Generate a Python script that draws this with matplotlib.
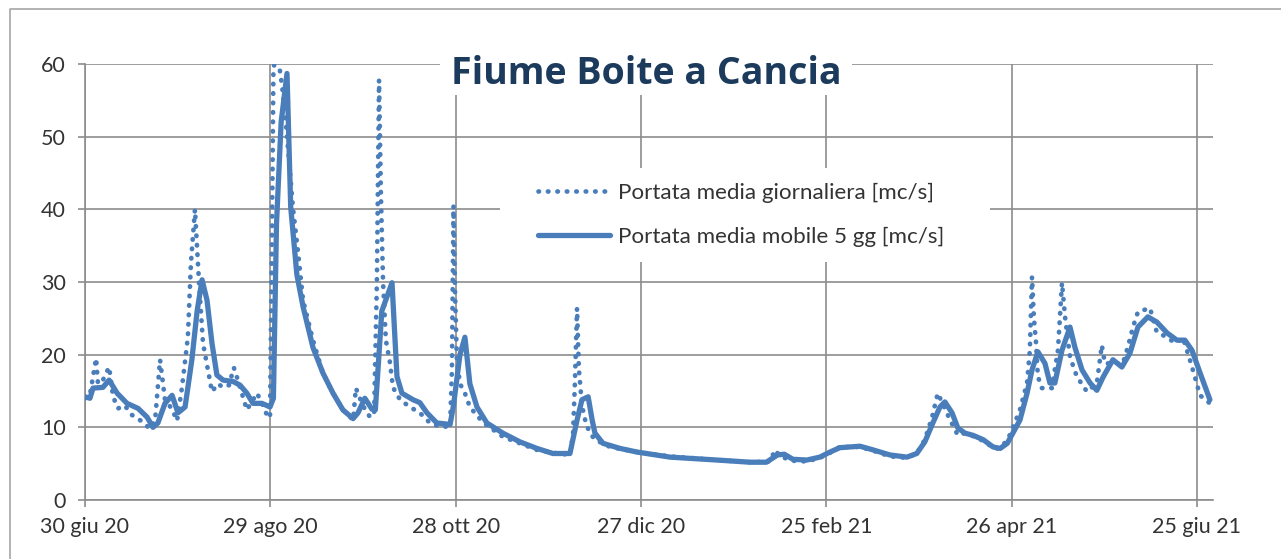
import matplotlib
matplotlib.use('Agg')
import matplotlib.pyplot as plt
from matplotlib.patches import Rectangle
from matplotlib.lines import Line2D

# days from 30 giu 2020, daily mean flow [mc/s] (dotted)
giorni_daily = [0, 1.6, 3.6, 4.2, 5.8, 7.8, 9.1, 10.7, 12.9, 15.2, 18.5, 21, 22.7, 24.3, 25.9,
                28.2, 29.8, 31.4, 33.3, 34.3, 35.6, 36.9, 38.2, 39.8, 41.1, 43, 44.7, 46.6, 48.2,
                49.5, 52.4, 55.7, 57.6, 58.9, 59.9, 60.5, 61, 61.8, 62.8, 63.8, 65, 66.4, 67.3,
                69, 70.6, 73.8, 77, 80.3, 83.5, 86.8, 87.7, 89, 90.6, 92.3, 93.6, 94.5, 95.2,
                95.8, 96.5, 97.4, 98.7, 99.7, 102, 105.2, 108.4, 111.7, 114.9, 118.2, 118.8,
                119.3, 119.8, 120.4, 121.4, 123, 124.6, 128.8, 135.3, 140.8, 146.3, 151.5, 157,
                158, 158.6, 159.3, 159.9, 160.9, 162.2, 163.5, 165.1, 170, 178.7, 189.4, 204.6,
                215.3, 221.8, 223.4, 225, 229.2, 233.7, 237.9, 241.2, 244.4, 250.9, 255.1, 260.6,
                266.1, 269.3, 271.9, 274.2, 276.1, 277.4, 279, 280.7, 282.6, 284.9, 288.1, 291.4,
                294.6, 296.9, 299.5, 302.7, 305, 305.9, 306.6, 307.2, 307.9, 308.5, 309.8, 313,
                315, 316.3, 317.3, 318.9, 321.1, 324.4, 327.6, 329.2, 330.2, 332.8, 336, 337.6,
                339.3, 340.9, 344.8, 347, 350.3, 352.9, 355.5, 357.7, 359.3, 361, 364.2]
portata_daily = [14.0, 14.5, 19.5, 16, 16.5, 18.3, 14.2, 12.6, 13, 11.7, 10.8, 9.8, 11, 19.3, 13.8,
                 12.5, 10.9, 15.5, 22.4, 32.6, 40, 30, 21.6, 17.9, 14.9, 16, 15.5, 15.8, 18.2,
                 16.5, 12.4, 14.7, 13.0, 11.7, 11.3, 35, 59, 62, 60, 57, 52, 45, 40.3,
                 34, 27.5, 22, 17.5, 14.7, 12.4, 11, 15.4, 14, 12.5, 11.4, 11.8, 30, 57.8,
                 42, 30, 22, 19, 15.5, 13.8, 12.8, 12, 10.6, 10.1, 10.1, 18,
                 40.5, 28.5, 19.3, 16, 14.7, 12.8, 10.7, 8.7, 7.8, 6.9, 6.5, 6.2,
                 9, 16, 26.4, 18, 13, 10.5, 9.2, 8.3, 7.3, 6.6, 6.0, 5.5,
                 5.2, 5.3, 6.9, 6.0, 5.4, 5.3, 5.8, 6.5, 7.3, 7.3, 6.8, 6.0,
                 5.8, 6.4, 8.3, 11.3, 14.7, 13.5, 12, 10.5, 8.9, 9.2, 8.7, 8.0,
                 7.0, 7.3, 9.0, 12.4, 16.1, 20.6, 30.7, 25.2, 21.6, 17, 15.4, 15.4,
                 20.6, 29.9, 25.2, 19.7, 17, 14.9, 16.1, 21.3, 18.8, 18.8, 18.8, 21,
                 23.8, 25.9, 26.4, 23.1, 22.4, 21.6, 22.3, 19.3, 17, 14.4, 13.3]

# 5-day moving average [mc/s] (solid)
giorni_mobile = [0, 1.6, 2.6, 5.8, 7.8, 10.4, 13.6, 17.2, 20.1, 22, 23.6, 25.9, 28.2, 30.1, 32.4,
                 34.6, 36.3, 37.9, 39.5, 41.1, 42.7, 44.7, 48, 50.2, 52.4, 54.4, 57.3, 59.9, 61,
                 62, 63.5, 65.4, 66.6, 68.6, 70.6, 73.8, 77, 80.3, 83.5, 86.8, 88.4, 90.6, 92.9,
                 94, 96.1, 99.4, 101, 102.6, 106.2, 108.4, 110.7, 113.9, 118.2, 119.3, 121.4, 123,
                 124.6, 126.9, 130.1, 135.3, 140.8, 146.3, 151.5, 157, 159.3, 160.9, 162.9, 164.2,
                 165.1, 167.7, 173.2, 178.7, 189.4, 204.6, 215.3, 220.6, 224.2, 226.4, 229.2,
                 233.7, 237.9, 241.2, 244.4, 250.9, 255.1, 260.6, 266.1, 269.3, 271.9, 274.5,
                 276.8, 278.4, 280.7, 282.6, 284.9, 287.5, 290.8, 294, 296.3, 298.6, 302.7, 305,
                 306.6, 308.5, 310.8, 312.4, 314, 316.3, 318.9, 320.5, 322.8, 325.4, 327.6, 329.6,
                 332.8, 335.7, 338.3, 340.9, 344.1, 347, 350.3, 353.5, 356.1, 358.4, 361, 364.2]
portata_mobile = [14.2, 14, 15.4, 15.5, 16.5, 14.7, 13.3, 12.6, 11.4, 10, 10.6, 13.3, 14.4, 12, 12.8,
                  19.3, 26, 30.3, 27.5, 21.6, 17.2, 16.5, 16.3, 15.8, 14.7, 13.3, 13.3, 12.8, 14,
                  38, 52, 58.7, 40.3, 31, 26.6, 21, 17.5, 14.7, 12.4, 11.2, 12, 14, 12.5,
                  12.4, 26, 29.9, 17, 14.7, 13.8, 13.4, 12, 10.6, 10.4, 13, 20, 22.4,
                  16, 12.8, 10.6, 9.2, 8, 7.1, 6.4, 6.4, 11, 13.8, 14.2, 11,
                  9.2, 7.8, 7.1, 6.6, 5.9, 5.5, 5.2, 5.2, 6.2, 6.3, 5.6,
                  5.5, 5.9, 6.6, 7.2, 7.4, 6.9, 6.2, 5.9, 6.4, 8, 10.6,
                  12.8, 13.5, 12, 9.9, 9.2, 8.9, 8.3, 7.3, 7.1, 7.8, 11, 14.7,
                  17.9, 20.4, 18.8, 16.1, 16.1, 20.6, 23.8, 21, 17.9, 16.1, 15.1, 16.9,
                  19.3, 18.3, 20.2, 23.8, 25.2, 24.5, 23, 22, 22, 20.6, 17.5, 13.8]

tick_giorni = [0, 60, 120, 180, 240, 300, 360]
tick_labels = ['30 giu 20', '29 ago 20', '28 ott 20', '27 dic 20', '25 feb 21', '26 apr 21', '25 giu 21']
y_ticks = [0, 10, 20, 30, 40, 50, 60]

W, H = 1281, 559
blu = '#4a7ebb'
grigio = '#8c8c8c'
testo = '#333333'
plt.rcParams['font.family'] = ['Lato', 'DejaVu Sans']

fig = plt.figure(figsize=(W / 100, H / 100), dpi=100)
ax = fig.add_axes([85 / W, 1 - 500 / H, (1213 - 85) / W, (500 - 64) / H])

ax.plot(giorni_daily, portata_daily, color=blu, lw=3.4, linestyle=(0, (0.1, 1.9)),
        dash_capstyle='round', label='Portata media giornaliera [mc/s]', zorder=3)
ax.plot(giorni_mobile, portata_mobile, color=blu, lw=3.8, solid_joinstyle='round',
        solid_capstyle='round', label='Portata media mobile 5 gg [mc/s]', zorder=4)

ax.set_xlim(0, 365.2)
ax.set_ylim(0, 60)
ax.set_xticks(tick_giorni)
ax.set_xticklabels(tick_labels)
ax.set_yticks(y_ticks)
ax.grid(True, color=grigio, lw=1.2)
ax.set_axisbelow(True)
for s in ['top', 'right']:
    ax.spines[s].set_visible(False)
for s in ['left', 'bottom']:
    ax.spines[s].set_color(grigio)
    ax.spines[s].set_linewidth(1.2)
ax.tick_params(length=5, width=1.2, color=grigio, labelsize=15.5, labelcolor=testo)
ax.tick_params(axis='x', pad=7)
ax.tick_params(axis='y', pad=9)

# white boxes behind title and legend (they hide the gridlines in the original)
def box_px(x0, y0, x1, y1):
    r = Rectangle((x0 / W, 1 - y1 / H), (x1 - x0) / W, (y1 - y0) / H, transform=fig.transFigure,
                  facecolor='white', edgecolor='none', zorder=1)
    ax.add_artist(r)
    r.set_clip_on(False)

box_px(440, 50, 852, 95)
box_px(500, 168, 990, 262)

fig.text(646 / W, 1 - 84 / H, 'Fiume Boite a Cancia', ha='center', va='baseline',
         fontsize=27, fontweight='bold', color='#1b3a5c', family=['Open Sans', 'DejaVu Sans'])

ax.legend(loc='upper left', bbox_to_anchor=(538 / W, 1 - 183 / H), bbox_transform=fig.transFigure,
          frameon=False, fontsize=16.1, handlelength=3.2, handletextpad=0.4, borderpad=0,
          borderaxespad=0, labelspacing=1.05, labelcolor=testo)

# outer chart border (top and left)
fig.add_artist(Line2D([10 / W, 10 / W, 1.0], [0, 1 - 9 / H, 1 - 9 / H], transform=fig.transFigure,
                      color='#a6a6a6', lw=1.2))

fig.savefig('out.png', dpi=100)
